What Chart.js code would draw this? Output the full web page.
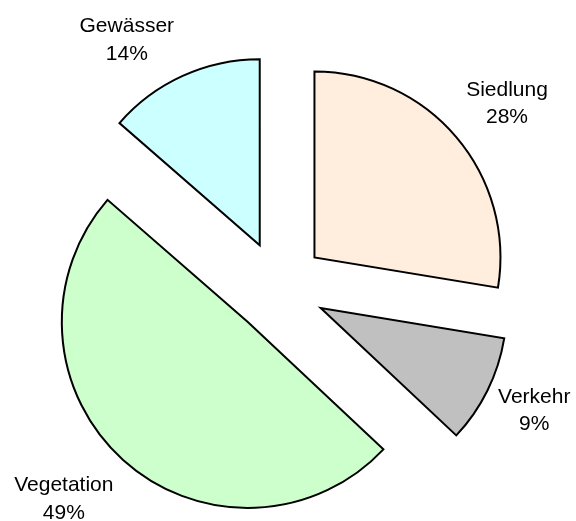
<!DOCTYPE html>
<html>
<head>
<meta charset="utf-8">
<script src="https://cdn.jsdelivr.net/npm/chart.js@4/dist/chart.umd.min.js"></script>
<style>
  html, body { margin: 0; padding: 0; background: #ffffff; }
  #wrap { width: 576px; height: 521px; position: relative; }
</style>
</head>
<body>
<div id="wrap"><canvas id="c" width="576" height="521"></canvas></div>
<script>
// ---- data ----
const categories = ['Siedlung', 'Verkehr', 'Vegetation', 'Gewässer'];
const shares = [27.6, 9.4, 49.4, 13.6];
const sliceColors = ['#FFEDDD', '#C0C0C0', '#CCFFCC', '#CCFFFF'];

// ---- layout settings ----
const pieRadius = 186;
const explode = 46.5;
const labelDistance = 60;
const labelNudges = [[5, 4], [-7, -8], [-19, -7], [-31, 17]];
const labelFont = "21px 'Liberation Sans', Arial, sans-serif";
const lineGap = 27.5;

const explodePlugin = {
  id: 'explode',
  beforeDatasetsDraw(chart) {
    const ca = chart.chartArea;
    const cx = (ca.left + ca.right) / 2;
    const cy = (ca.top + ca.bottom) / 2;
    chart.getDatasetMeta(0).data.forEach(el => {
      const mid = (el.startAngle + el.endAngle) / 2;
      el.x = cx + Math.cos(mid) * explode;
      el.y = cy + Math.sin(mid) * explode;
    });
  },
  afterDatasetsDraw(chart) {
    const ctx = chart.ctx;
    const meta = chart.getDatasetMeta(0);
    const total = shares.reduce((a, b) => a + b, 0);
    ctx.save();
    ctx.font = labelFont;
    ctx.fillStyle = '#000000';
    ctx.textAlign = 'center';
    ctx.textBaseline = 'alphabetic';
    meta.data.forEach((el, i) => {
      const mid = (el.startAngle + el.endAngle) / 2;
      const r = el.outerRadius + labelDistance;
      const x = el.x + Math.cos(mid) * r + labelNudges[i][0];
      const y = el.y + Math.sin(mid) * r + labelNudges[i][1];
      const pct = Math.round(shares[i] / total * 100) + '%';
      ctx.fillText(categories[i], x, y - 6.25);
      ctx.fillText(pct, x, y - 6.25 + lineGap);
    });
    ctx.restore();
  }
};

new Chart(document.getElementById('c'), {
  type: 'pie',
  data: {
    labels: categories,
    datasets: [{
      data: shares,
      backgroundColor: sliceColors,
      borderColor: '#000000',
      borderWidth: 2,
      borderJoinStyle: 'miter'
    }]
  },
  options: {
    responsive: false,
    animation: false,
    radius: pieRadius,
    layout: { padding: { left: 0, right: 18, top: 54, bottom: 0 } },
    plugins: {
      legend: { display: false },
      tooltip: { enabled: false }
    }
  },
  plugins: [explodePlugin]
});
</script>
</body>
</html>
